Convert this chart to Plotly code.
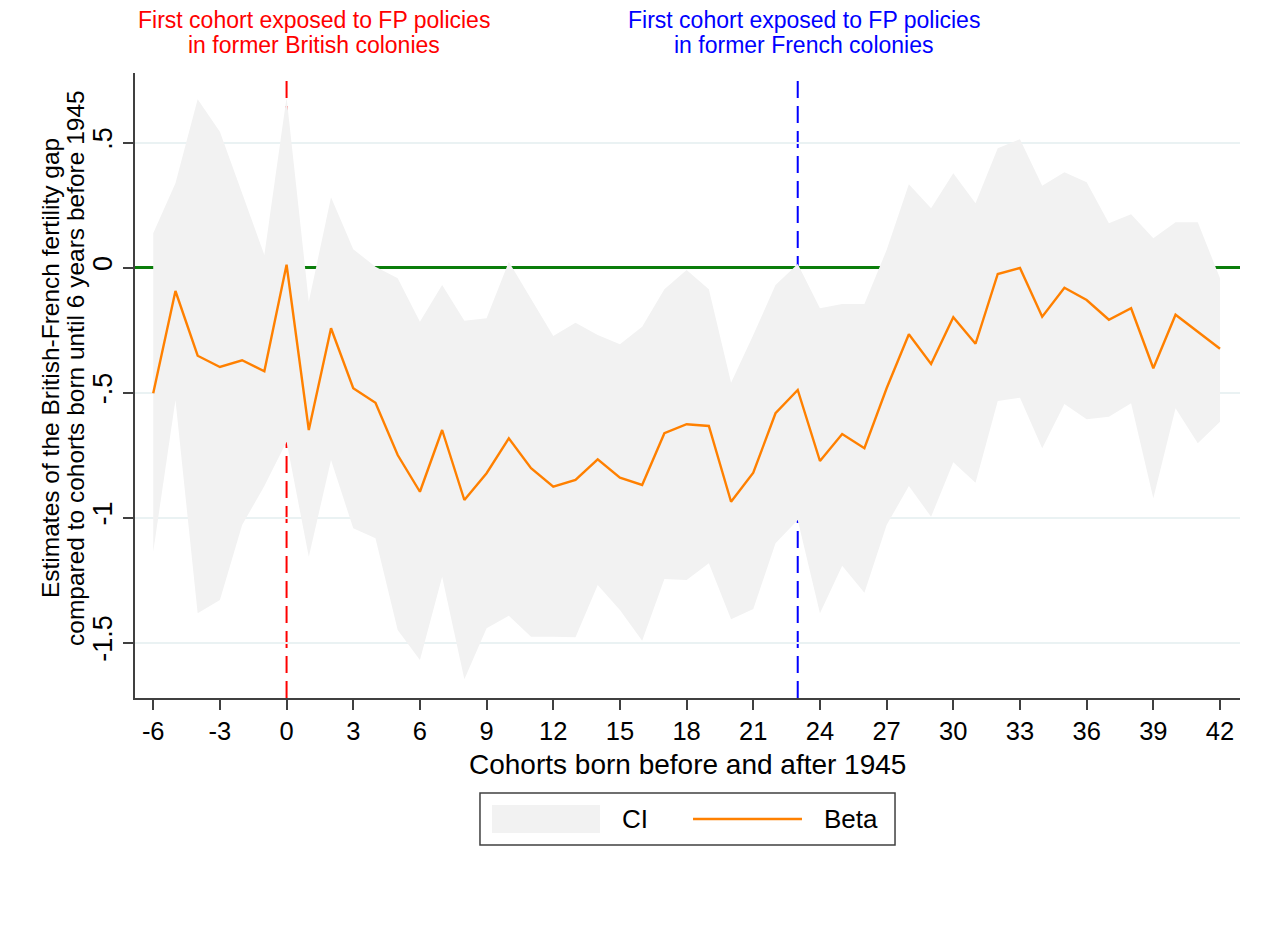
import plotly.graph_objects as go

# Cohort index relative to 1945
cohort = list(range(-6, 43))

# Point estimates of the British-French fertility gap
beta = [-0.503, -0.094, -0.353, -0.398, -0.371, -0.415, 0.011, -0.650, -0.243, -0.483,
        -0.541, -0.750, -0.897, -0.650, -0.930, -0.823, -0.683, -0.803, -0.877, -0.850,
        -0.767, -0.841, -0.870, -0.663, -0.627, -0.634, -0.937, -0.821, -0.583, -0.490,
        -0.774, -0.666, -0.723, -0.483, -0.267, -0.386, -0.199, -0.305, -0.026, -0.002,
        -0.197, -0.081, -0.130, -0.209, -0.163, -0.403, -0.189, -0.257, -0.325]

# Confidence interval bounds
ci_upper = [0.137, 0.337, 0.673, 0.543, 0.297, 0.050, 0.680, -0.137, 0.281, 0.073,
            0.003, -0.043, -0.217, -0.070, -0.213, -0.203, 0.023, -0.123, -0.274, -0.221,
            -0.270, -0.307, -0.237, -0.087, -0.010, -0.087, -0.461, -0.270, -0.070, 0.014,
            -0.163, -0.146, -0.146, 0.070, 0.333, 0.237, 0.377, 0.257, 0.477, 0.513,
            0.327, 0.381, 0.341, 0.177, 0.213, 0.117, 0.181, 0.181, -0.043]
ci_lower = [-1.137, -0.530, -1.383, -1.330, -1.030, -0.874, -0.697, -1.157, -0.770, -1.043,
            -1.083, -1.450, -1.570, -1.237, -1.647, -1.443, -1.393, -1.477, -1.477, -1.479,
            -1.270, -1.370, -1.493, -1.246, -1.250, -1.183, -1.407, -1.366, -1.103, -1.010,
            -1.383, -1.193, -1.301, -1.030, -0.874, -0.997, -0.779, -0.861, -0.534, -0.521,
            -0.723, -0.546, -0.607, -0.597, -0.543, -0.923, -0.563, -0.703, -0.617]

x_ticks = list(range(-6, 43, 3))
y_ticks = [-1.5, -1, -0.5, 0, 0.5]
y_tick_text = ["-1.5", "-1", "-.5", "0", ".5"]

british_cohort = 0
french_cohort = 23

FONT = "Liberation Sans, Arial, sans-serif"
CI_FILL = "#f2f2f2"
BETA_COLOR = "#ff8000"

fig = go.Figure()

# Confidence band as a closed polygon
fig.add_trace(go.Scatter(
    x=cohort + cohort[::-1],
    y=ci_upper + ci_lower[::-1],
    fill="toself",
    fillcolor=CI_FILL,
    line=dict(width=0, color=CI_FILL),
    mode="lines",
    name="CI",
    showlegend=False,
    hoverinfo="skip",
))

fig.add_trace(go.Scatter(
    x=cohort,
    y=beta,
    mode="lines",
    line=dict(color=BETA_COLOR, width=2.4),
    name="Beta",
    showlegend=False,
))

shapes = [
    # policy cohorts
    dict(type="line", xref="x", yref="paper", x0=british_cohort, x1=british_cohort, y0=0, y1=1,
         line=dict(color="#ff0000", width=2, dash="17px,8px"), layer="below"),
    dict(type="line", xref="x", yref="paper", x0=french_cohort, x1=french_cohort, y0=0, y1=1,
         line=dict(color="#0000ff", width=2, dash="17px,8px"), layer="below"),
    # legend frame and keys
    dict(type="rect", xref="paper", yref="paper", x0=0.3122, x1=0.6878, y0=-0.152, y1=-0.2352,
         line=dict(color="#404040", width=1.5), fillcolor="white"),
    dict(type="rect", xref="paper", yref="paper", x0=0.3231, x1=0.4208, y0=-0.1712, y1=-0.216,
         line=dict(width=0), fillcolor=CI_FILL),
    dict(type="line", xref="paper", yref="paper", x0=0.505, x1=0.6036, y0=-0.1936, y1=-0.1936,
         line=dict(color=BETA_COLOR, width=2.4)),
]


def text_note(text, x, y, size, color="black", xref="paper", yref="paper",
              xanchor="center", angle=0):
    return dict(text=text, xref=xref, yref=yref, x=x, y=y, xanchor=xanchor,
                yanchor="middle", textangle=angle, showarrow=False,
                font=dict(family=FONT, size=size, color=color))


annotations = [
    text_note("First cohort exposed to FP policies", 1.23, 1.0848, 23, "#ff0000", xref="x"),
    text_note("in former British colonies", 1.23, 1.0448, 23, "#ff0000", xref="x"),
    text_note("First cohort exposed to FP policies", 23.28, 1.0848, 23, "#0000ff", xref="x"),
    text_note("in former French colonies", 23.28, 1.0448, 23, "#0000ff", xref="x"),
    text_note("Cohorts born before and after 1945", 0.5, -0.1056, 28),
    text_note("Estimates of the British-French fertility gap", -0.0769, 0.528, 24.5, angle=-90),
    text_note("compared to cohorts born until 6 years before 1945", -0.0543, 0.528, 24.5, angle=-90),
    text_note("CI", 0.4389, -0.1936, 26, xanchor="left"),
    text_note("Beta", 0.6217, -0.1936, 26, xanchor="left"),
]

fig.update_layout(
    width=1271,
    height=927,
    margin=dict(l=135, r=31, t=73, b=229),
    paper_bgcolor="white",
    plot_bgcolor="white",
    font=dict(family=FONT, color="black"),
    shapes=shapes,
    annotations=annotations,
    xaxis=dict(
        range=[-6.82, 42.9],
        tickmode="array",
        tickvals=x_ticks,
        ticktext=[str(v) for v in x_ticks],
        ticks="outside",
        ticklen=10,
        tickwidth=1.5,
        tickcolor="#404040",
        showline=True,
        linecolor="#404040",
        linewidth=1.5,
        showgrid=False,
        zeroline=False,
        tickfont=dict(family=FONT, size=25.5, color="black"),
    ),
    yaxis=dict(
        range=[-1.722, 0.778],
        tickmode="array",
        tickvals=y_ticks,
        ticktext=y_tick_text,
        tickangle=-90,
        ticks="outside",
        ticklen=10,
        tickwidth=1.5,
        tickcolor="#404040",
        showline=True,
        linecolor="#404040",
        linewidth=1.5,
        showgrid=True,
        gridcolor="#eaf2f3",
        gridwidth=2,
        # green reference line at zero
        zeroline=True,
        zerolinecolor="#0a7d0a",
        zerolinewidth=2.5,
        tickfont=dict(family=FONT, size=27, color="black"),
    ),
)

fig.write_html("out.html")
